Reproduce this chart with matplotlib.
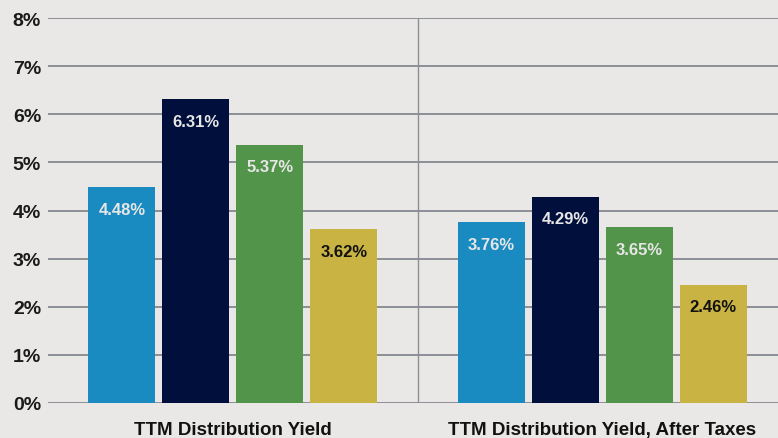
import matplotlib
matplotlib.use("Agg")
import matplotlib.pyplot as plt
import numpy as np

categories = ["TTM Distribution Yield", "TTM Distribution Yield, After Taxes"]
series_a = [4.48, 3.76]
series_b = [6.31, 4.29]
series_c = [5.37, 3.65]
series_d = [3.62, 2.46]
y_ticks = [0, 1, 2, 3, 4, 5, 6, 7, 8]
y_tick_labels = ["0%", "1%", "2%", "3%", "4%", "5%", "6%", "7%", "8%"]

colors = ["#1a8bc0", "#000f3b", "#52944a", "#c9b443"]
label_colors = ["#e6e6e6", "#e6e6e6", "#e6e6e6", "#111111"]
bg = "#e9e8e6"

plt.rcParams['font.family'] = ['Liberation Sans', 'DejaVu Sans']

fig = plt.figure(figsize=(7.78, 4.39), dpi=100)
fig.patch.set_facecolor(bg)
W, H = 778, 439
ax = fig.add_axes([48 / W, (H - 404) / H, (778 - 48) / W, (404 - 19) / H])
ax.set_facecolor(bg)

x = np.arange(len(categories))
offsets = [-0.3, -0.1, 0.1, 0.3]
width = 0.181
all_series = [series_a, series_b, series_c, series_d]

for yv in y_ticks:
    ax.axhline(yv, color="#8c9096", linewidth=1.4, zorder=1)
ax.axvline(0.5, color="#8c9096", linewidth=1.0, zorder=1)

for s, off, c, lc in zip(all_series, offsets, colors, label_colors):
    bars = ax.bar(x + off, s, width=width, color=c, zorder=2)
    for b, v in zip(bars, s):
        ax.annotate(f"{v:.2f}%", (b.get_x() + b.get_width() / 2, v),
                    xytext=(0, -16), textcoords="offset points",
                    ha="center", va="center", color=lc,
                    fontsize=12, fontweight="bold", zorder=3)

ax.set_xlim(-0.5, 1.475)
ax.set_ylim(0, 8)
ax.set_yticks(y_ticks)
ax.set_yticklabels(y_tick_labels, fontsize=14, fontweight="bold", color="#1a1a1a")
ax.set_xticks(x)
ax.set_xticklabels(categories, fontsize=13.5, fontweight="bold", color="#111111")
ax.tick_params(axis="both", length=0)
ax.tick_params(axis="y", pad=5)
ax.tick_params(axis="x", pad=13)
for sp in ax.spines.values():
    sp.set_visible(False)

fig.savefig("out.png", dpi=100, facecolor=bg)
